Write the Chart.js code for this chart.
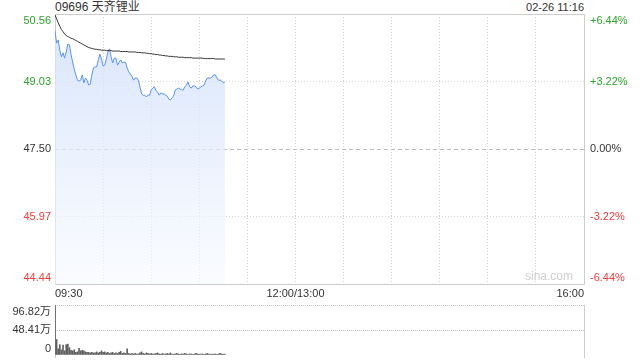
<!DOCTYPE html>
<html>
<head>
<meta charset="utf-8">
<script src="https://cdn.jsdelivr.net/npm/chart.js@4/dist/chart.umd.min.js"></script>
<style>
  body { margin:0; width:640px; height:360px; background:#fff; position:relative; overflow:hidden;
         font-family:"Liberation Sans", Arial, "Noto Sans CJK SC", sans-serif; }
  .hdr { position:absolute; top:0; font-size:12px; color:#333; line-height:14px; }
  #title { left:55px; }
  #stamp { right:56px; font-size:11px; }
  canvas { position:absolute; left:0; }
  #priceChart { top:0; }
  #volChart { top:298px; }
</style>
</head>
<body>
<div class="hdr" id="title">09696 天齐锂业</div>
<div class="hdr" id="stamp">02-26 11:16</div>
<canvas id="priceChart" width="640" height="300"></canvas>
<canvas id="volChart" width="640" height="62"></canvas>
<script>
/* ── data (one value per minute since 09:30) ─────────────── */
const prevClose = 47.50;
const priceTicks = [44.44, 45.97, 47.50, 49.03, 50.56];
const priceTickLabels = ['44.44', '45.97', '47.50', '49.03', '50.56'];
const pctTickLabels = ['-6.44%', '-3.22%', '0.00%', '+3.22%', '+6.44%'];
const tickColors = ['#f03c3c', '#f03c3c', '#333333', '#2aa52a', '#2aa52a'];

const xTickMins = [0, 30, 60, 90, 120, 150, 180, 210, 240, 270, 300, 330];
const xTickLabels = ['09:30', '', '', '', '', '12:00/13:00', '', '', '', '', '', '16:00'];

const price = [
  50.18, 49.90, 49.97, 49.74, 49.59, 49.68, 49.56, 49.70, 49.88, 49.86,
  49.65, 49.47, 49.31, 49.18, 49.06, 49.04, 49.06, 49.18, 49.00, 49.11,
  49.06, 48.95, 48.97, 49.18, 49.34, 49.36, 49.36, 49.52, 49.65, 49.54,
  49.38, 49.40, 49.54, 49.70, 49.77, 49.59, 49.45, 49.56, 49.56, 49.40,
  49.47, 49.52, 49.45, 49.47, 49.47, 49.34, 49.25, 49.20, 49.15, 49.06,
  49.11, 49.11, 49.06, 48.91, 48.75, 48.72, 48.72, 48.68, 48.72, 48.72,
  48.84, 48.88, 48.91, 48.82, 48.79, 48.72, 48.77, 48.75, 48.75, 48.72,
  48.70, 48.63, 48.61, 48.66, 48.70, 48.84, 48.86, 48.88, 48.86, 48.84,
  48.84, 48.91, 48.95, 49.02, 48.91, 48.88, 48.93, 48.93, 48.91, 48.86,
  48.88, 48.91, 48.93, 48.95, 49.04, 49.11, 49.11, 49.11, 49.13, 49.18,
  49.18, 49.11, 49.06, 49.06, 49.04, 49.00, 49.02
];
const avgPrice = [
  50.54, 50.45, 50.36, 50.28, 50.21, 50.16, 50.11, 50.07, 50.05, 50.03,
  50.01, 50.00, 49.98, 49.96, 49.94, 49.92, 49.90, 49.88, 49.86, 49.84,
  49.82, 49.80, 49.79, 49.78, 49.77, 49.76, 49.76, 49.75, 49.75, 49.74,
  49.74, 49.74, 49.73, 49.73, 49.73, 49.73, 49.72, 49.72, 49.72, 49.72,
  49.72, 49.71, 49.71, 49.71, 49.71, 49.71, 49.70, 49.70, 49.70, 49.70,
  49.70, 49.69, 49.69, 49.69, 49.68, 49.68, 49.68, 49.67, 49.67, 49.66,
  49.66, 49.65, 49.65, 49.64, 49.64, 49.63, 49.63, 49.62, 49.62, 49.61,
  49.61, 49.60, 49.60, 49.60, 49.59, 49.59, 49.59, 49.58, 49.58, 49.58,
  49.58, 49.57, 49.57, 49.57, 49.57, 49.57, 49.56, 49.56, 49.56, 49.56,
  49.56, 49.56, 49.56, 49.55, 49.55, 49.55, 49.55, 49.55, 49.55, 49.55,
  49.54, 49.54, 49.54, 49.54, 49.54, 49.54, 49.54
];

// volume in 万
const volTicks = [0, 48.41, 96.82];
const volTickLabels = ['0', '48.41万', '96.82万'];
const volume = [
  96.82, 30, 12, 20, 10, 19, 8, 20, 21, 14,
  9, 8, 10, 5, 6, 13, 8, 9, 8, 6,
  5, 5, 4, 5, 4, 4, 6, 4, 5, 8,
  5, 6, 4, 5, 3, 4, 5, 3, 4, 3,
  5, 7, 3, 4, 3, 12, 3, 2, 3, 2,
  3, 2, 2, 4, 6, 3, 2, 4, 3, 2,
  3, 2, 2, 3, 4, 2, 1.5, 3, 2, 2,
  3, 2, 4, 2, 1.5, 2, 3, 2, 1.5, 2,
  2, 3, 2, 1.5, 2, 2, 1.5, 2, 3, 2,
  1.5, 2, 2, 1.5, 2, 3, 2, 1.5, 2, 1.5,
  2, 1.5, 2, 3, 2, 1.5, 2
];

/* ── helpers ─────────────────────────────────────────────── */
const FONT = '"Liberation Sans", Arial, "Noto Sans CJK SC", sans-serif';
const GRID = '#d4d4d4';
const FRAME = '#cccccc';
const toPts = arr => arr.map((v, i) => ({ x: i, y: v }));
const fixTicks = list => axis => { axis.ticks = list.map(v => ({ value: v })); };
const fixW = w => s => { s.width = w; };

// y labels: first sits above the bottom edge, last below the top edge
const axisText = {
  id: 'axisText',
  afterDraw(chart, args, opts) {
    const { ctx, chartArea } = chart;
    ctx.save();
    ctx.font = '11px ' + FONT;
    (opts.items || []).forEach(it => {
      const sc = chart.scales[it.scale];
      const n = it.values.length;
      it.values.forEach((v, j) => {
        const y = sc.getPixelForValue(v);
        ctx.textBaseline = j === 0 ? 'bottom' : (j === n - 1 ? 'top' : 'middle');
        ctx.fillStyle = it.colors ? it.colors[j] : '#333';
        if (it.side === 'left') {
          ctx.textAlign = 'right';
          ctx.fillText(it.labels[j], chartArea.left - 4, j === 0 ? y - 1 : (j === n - 1 ? y + 1 : y));
        } else {
          ctx.textAlign = 'left';
          ctx.fillText(it.labels[j], chartArea.right + 6, j === 0 ? y - 1 : (j === n - 1 ? y + 1 : y));
        }
      });
    });
    if (opts.mark) {
      ctx.font = '12px ' + FONT;
      ctx.fillStyle = '#cfcfcf';
      ctx.textAlign = 'right';
      ctx.textBaseline = 'bottom';
      ctx.fillText(opts.mark, chartArea.right - 11, chartArea.bottom - 1);
    }
    ctx.restore();
  },
  beforeDatasetsDraw(chart, args, opts) {
    const { ctx, chartArea: a } = chart;
    ctx.save();
    ctx.strokeStyle = FRAME;
    ctx.lineWidth = 1;
    ctx.beginPath();
    if (opts.frame === 'box') {
      ctx.rect(a.left + 0.5, a.top + 0.5, a.right - a.left, a.bottom - a.top);
    } else {
      ctx.moveTo(a.left + 0.5, a.top); ctx.lineTo(a.left + 0.5, a.bottom + 3);
      ctx.moveTo(a.right + 0.5, a.top); ctx.lineTo(a.right + 0.5, a.bottom + 3);
    }
    ctx.stroke();
    ctx.restore();
  }
};

/* ── price chart ─────────────────────────────────────────── */
const areaFill = ctx => {
  const a = ctx.chart.chartArea;
  if (!a) return 'rgba(214,228,251,0.8)';
  const g = ctx.chart.ctx.createLinearGradient(0, a.top, 0, a.bottom);
  g.addColorStop(0, 'rgba(208,223,250,0.85)');
  g.addColorStop(1, 'rgba(246,249,255,0.6)');
  return g;
};

new Chart(document.getElementById('priceChart'), {
  type: 'line',
  data: {
    datasets: [
      { label: 'avg', data: toPts(avgPrice), borderColor: '#333', borderWidth: 1,
        pointRadius: 0, fill: false, tension: 0 },
      { label: 'price', data: toPts(price), borderColor: '#5a92f2', borderWidth: 1,
        pointRadius: 0, fill: 'start', backgroundColor: areaFill, tension: 0 },
    ],
  },
  options: {
    responsive: false, animation: false, devicePixelRatio: 1,
    layout: { padding: { top: 14, left: 0, right: 0, bottom: 0 } },
    plugins: {
      legend: { display: false }, tooltip: { enabled: false },
      axisText: {
        frame: 'box', mark: 'sina.com',
        items: [
          { scale: 'y', side: 'left', values: priceTicks, labels: priceTickLabels, colors: tickColors },
          { scale: 'y2', side: 'right', values: priceTicks, labels: pctTickLabels, colors: tickColors },
        ],
      },
    },
    scales: {
      x: {
        type: 'linear', min: 0, max: 330,
        afterBuildTicks: fixTicks(xTickMins),
        afterFit: s => { s.height = 16; },
        ticks: { autoSkip: false, maxRotation: 0, align: 'inner', padding: 3,
                 color: '#333', font: { size: 11, family: FONT },
                 callback: (v, i) => xTickLabels[i] },
        grid: { drawTicks: false,
                color: c => (c.index === 0 || c.index === xTickMins.length - 1) ? 'rgba(0,0,0,0)' : GRID },
        border: { display: false, dash: [1, 2] },
      },
      y: {
        position: 'left', min: priceTicks[0], max: priceTicks[priceTicks.length - 1],
        afterBuildTicks: fixTicks(priceTicks),
        afterFit: fixW(55),
        ticks: { display: false },
        grid: { drawTicks: false,
                color: c => (c.index === 0 || c.index === priceTicks.length - 1) ? 'rgba(0,0,0,0)'
                          : (c.tick && c.tick.value === prevClose ? '#bdbdbd' : GRID) },
        border: { display: false,
                  dash: c => (c.tick && c.tick.value === prevClose) ? [4, 3] : [1, 2] },
      },
      y2: {
        position: 'right', min: priceTicks[0], max: priceTicks[priceTicks.length - 1],
        afterBuildTicks: fixTicks(priceTicks),
        afterFit: fixW(56),
        ticks: { display: false },
        grid: { drawOnChartArea: false, drawTicks: false },
        border: { display: false },
      },
    },
  },
  plugins: [axisText],
});

/* ── volume chart ────────────────────────────────────────── */
new Chart(document.getElementById('volChart'), {
  type: 'bar',
  data: {
    datasets: [{ label: 'vol', data: toPts(volume), backgroundColor: '#5f5f5f',
                 barThickness: 1, borderWidth: 0 }],
  },
  options: {
    responsive: false, animation: false, devicePixelRatio: 1,
    layout: { padding: { top: 7, bottom: 5, left: 0, right: 0 } },
    plugins: {
      legend: { display: false }, tooltip: { enabled: false },
      axisText: {
        frame: 'sides',
        items: [{ scale: 'y', side: 'left', values: volTicks, labels: volTickLabels }],
      },
    },
    scales: {
      x: { type: 'linear', min: 0, max: 330, display: false, offset: false },
      y: {
        position: 'left', min: 0, max: volTicks[volTicks.length - 1],
        afterBuildTicks: fixTicks(volTicks),
        afterFit: fixW(55),
        ticks: { display: false },
        grid: { drawTicks: false, lineWidth: 1,
                color: c => c.index === 0 ? 'rgba(0,0,0,0)' : '#c2c2c2' },
        border: { display: false, dash: [1, 1] },
      },
      y2: {
        position: 'right', min: 0, max: volTicks[volTicks.length - 1],
        afterFit: fixW(56),
        ticks: { display: false },
        grid: { drawOnChartArea: false, drawTicks: false },
        border: { display: false },
      },
    },
  },
  plugins: [axisText],
});
</script>
</body>
</html>
